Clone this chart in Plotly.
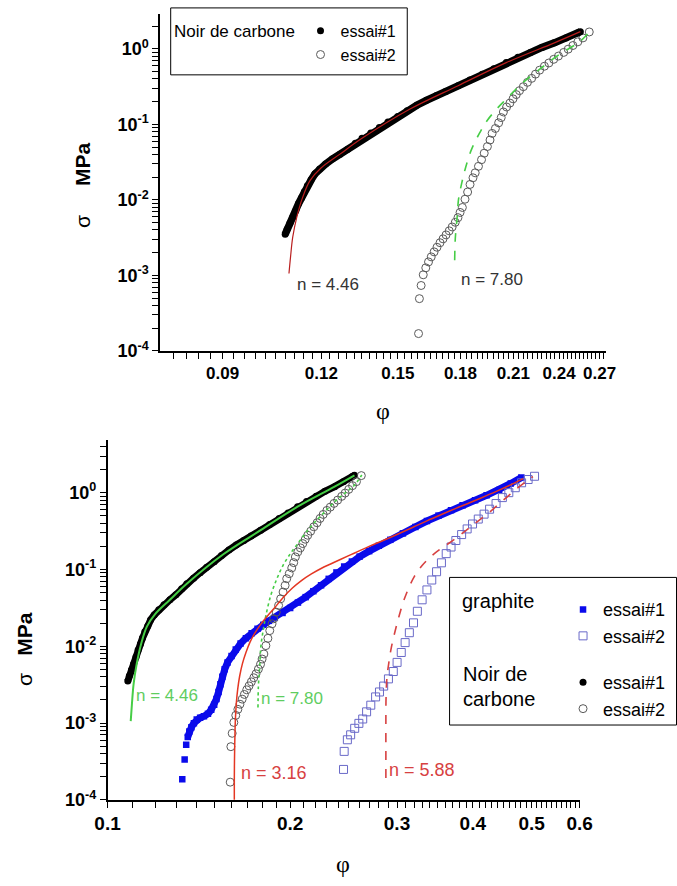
import plotly.graph_objects as go

W, H = 677, 886

# ---------------- data ----------------
# Noir de carbone, essai#1 (filled circles)
phi_nc1 = [0.1080, 0.1086, 0.1095, 0.1104, 0.1114, 0.1123, 0.1133, 0.1142, 0.1152, 0.1165,
           0.1178, 0.1194, 0.1215, 0.1239, 0.1267, 0.1296, 0.1325, 0.1351, 0.1386, 0.1421,
           0.1457, 0.1499, 0.1541, 0.1585, 0.1630, 0.1677, 0.1724, 0.1788, 0.1850, 0.1918,
           0.1984, 0.2057, 0.2128, 0.2207, 0.2282, 0.2367, 0.2448, 0.2532, 0.2553]
sig_nc1 = [0.00352, 0.00409, 0.00490, 0.00587, 0.00725, 0.00895, 0.0107, 0.0128, 0.0154, 0.0184,
           0.0221, 0.0256, 0.0298, 0.0347, 0.0403, 0.0468, 0.0561, 0.0652, 0.0769, 0.0908,
           0.1072, 0.1265, 0.1515, 0.1788, 0.2078, 0.2379, 0.2724, 0.3245, 0.3851, 0.4613,
           0.5444, 0.6561, 0.7697, 0.8948, 1.040, 1.198, 1.384, 1.619, 1.683]

# Noir de carbone, essai#2 (open circles)
phi_nc2 = [0.1593, 0.1597, 0.1605, 0.1615, 0.1627, 0.1640, 0.1653, 0.1667, 0.1681, 0.1696,
           0.1711, 0.1726, 0.1742, 0.1757, 0.1773, 0.1787, 0.1798, 0.1810, 0.1824, 0.1838,
           0.1851, 0.1867, 0.1879, 0.1897, 0.1914, 0.1929, 0.1947, 0.1962, 0.1974, 0.1993,
           0.2012, 0.2027, 0.2040, 0.2059, 0.2079, 0.2098, 0.2118, 0.2138, 0.2162, 0.2188,
           0.2215, 0.2240, 0.2267, 0.2299, 0.2329, 0.2362, 0.2395, 0.2432, 0.2464, 0.2498,
           0.2534, 0.2572, 0.2620]
sig_nc2 = [1.70e-4, 4.93e-4, 7.36e-4, 1.02e-3, 1.26e-3, 1.51e-3, 1.76e-3, 2.05e-3, 2.36e-3, 2.71e-3,
           3.05e-3, 3.44e-3, 3.89e-3, 4.38e-3, 5.05e-3, 5.82e-3, 6.82e-3, 7.93e-3, 0.0102, 0.0127,
           0.0160, 0.0196, 0.0228, 0.0278, 0.0340, 0.0415, 0.0508, 0.0620, 0.0758, 0.0881,
           0.1047, 0.1227, 0.1457, 0.1694, 0.1910, 0.2174, 0.2474, 0.2790, 0.3149, 0.3594,
           0.4055, 0.4613, 0.5204, 0.5870, 0.6484, 0.7247, 0.8003, 0.8948, 0.988, 1.104,
           1.234, 1.392, 1.668]

# fit n = 4.46 (Noir de carbone essai#1)
phi_fit446 = [0.1092, 0.1097, 0.1104, 0.1117, 0.1136, 0.1161, 0.1198, 0.1267, 0.1351, 0.1554,
              0.1788, 0.2057, 0.2367, 0.2553]
sig_fit446 = [0.00106, 0.00176, 0.00321, 0.00587, 0.0107, 0.0180, 0.0262, 0.0403, 0.0652, 0.159,
              0.3245, 0.6561, 1.198, 1.683]

# fit n = 7.80 (Noir de carbone essai#2)
phi_fit780 = [0.1770, 0.1773, 0.1782, 0.1790, 0.1807, 0.1824, 0.1858, 0.1902, 0.1947, 0.2002,
              0.2059, 0.2128, 0.2199, 0.2282, 0.2369, 0.2459, 0.2553, 0.2625]
sig_fit780 = [1.59e-3, 3.05e-3, 5.58e-3, 0.0102, 0.0168, 0.0251, 0.0459, 0.0758, 0.1132, 0.1609,
              0.2174, 0.3092, 0.4178, 0.5648, 0.7629, 0.979, 1.257, 1.70]

# graphite, essai#1 (filled squares)
phi_gr1 = [0.1328, 0.1340, 0.1348, 0.1356, 0.1364, 0.1375, 0.1388, 0.1403, 0.1421, 0.1442,
           0.1464, 0.1482, 0.1499, 0.1512, 0.1524, 0.1535, 0.1546, 0.1560, 0.1577, 0.1601,
           0.1627, 0.1657, 0.1691, 0.1728, 0.1767, 0.1806, 0.1846, 0.1887, 0.1943, 0.2000,
           0.2060, 0.2121, 0.2184, 0.2249, 0.2315, 0.2384, 0.2455, 0.2528, 0.2603, 0.2699,
           0.2800, 0.2925, 0.3068, 0.3217, 0.3361, 0.3512, 0.3683, 0.3848, 0.4035, 0.4216,
           0.4421, 0.4620, 0.4809]
sig_gr1 = [1.85e-4, 3.35e-4, 5.23e-4, 6.59e-4, 7.75e-4, 8.85e-4, 9.97e-4, 1.11e-3, 1.17e-3, 1.23e-3,
           1.32e-3, 1.49e-3, 1.73e-3, 2.06e-3, 2.54e-3, 3.21e-3, 4.01e-3, 5.01e-3, 6.17e-3, 7.48e-3,
           9.08e-3, 0.01083, 0.01275, 0.01479, 0.01690, 0.01902, 0.02142, 0.02376, 0.02716, 0.03149,
           0.03706, 0.04362, 0.05210, 0.06223, 0.07547, 0.09150, 0.1093, 0.1268, 0.1470, 0.1730,
           0.2037, 0.2432, 0.2950, 0.3576, 0.4272, 0.5029, 0.5918, 0.6865, 0.7962, 0.9231,
           1.086, 1.317, 1.57]

# graphite, essai#2 (open squares)
phi_gr2 = [0.2449, 0.2455, 0.2485, 0.2516, 0.2555, 0.2596, 0.2634, 0.2673, 0.2716, 0.2766,
           0.2807, 0.2852, 0.2904, 0.2958, 0.3001, 0.3049, 0.3094, 0.3144, 0.3194, 0.3241,
           0.3300, 0.3361, 0.3423, 0.3486, 0.3551, 0.3616, 0.3683, 0.3751, 0.3834, 0.3915,
           0.3996, 0.4084, 0.4175, 0.4263, 0.4369, 0.4475, 0.4586, 0.4700, 0.4814, 0.4934,
           0.5056]
sig_gr2 = [2.49e-4, 4.28e-4, 6.06e-4, 7.03e-4, 8.55e-4, 9.91e-4, 1.13e-3, 1.40e-3, 1.71e-3, 2.19e-3,
           2.54e-3, 3.03e-3, 3.76e-3, 4.69e-3, 6.17e-3, 8.30e-3, 0.01116, 0.01501, 0.02018, 0.02856,
           0.04027, 0.05416, 0.07285, 0.09342, 0.1220, 0.1607, 0.1960, 0.2383, 0.2847, 0.3371,
           0.3908, 0.4533, 0.5255, 0.6095, 0.7218, 0.8622, 1.000, 1.160, 1.345, 1.483,
           1.635]

# fit n = 3.16 (graphite essai#1)
phi_fit316 = [0.1618, 0.1618, 0.1619, 0.1621, 0.1624, 0.1630, 0.1639, 0.1651, 0.1669, 0.1691,
              0.1716, 0.1747, 0.1786, 0.1832, 0.1887, 0.1943, 0.2015, 0.2090, 0.2168, 0.2249,
              0.2332, 0.2419, 0.2555, 0.2699, 0.2852, 0.3012, 0.3182, 0.3361, 0.3551, 0.3751,
              0.3962, 0.4186, 0.4421, 0.4670, 0.4844]
sig_fit316 = [9.2e-5, 1.76e-4, 3.19e-4, 5.76e-4, 1.04e-3, 1.78e-3, 2.77e-3, 4.07e-3, 5.99e-3, 8.30e-3,
              0.01116, 0.01457, 0.01902, 0.02447, 0.03195, 0.04234, 0.05693, 0.07218, 0.08754, 0.1030,
              0.1180, 0.1350, 0.1640, 0.2000, 0.2400, 0.2900, 0.3520, 0.4300, 0.5200, 0.6250,
              0.7450, 0.8950, 1.080, 1.320, 1.520]

# fit n = 5.88 (graphite essai#2)
phi_fit588 = [0.2876, 0.2876, 0.2876, 0.2878, 0.2888, 0.2909, 0.2936, 0.2974, 0.3018, 0.3068,
              0.3130, 0.3205, 0.3300, 0.3411, 0.3525, 0.3643, 0.3778, 0.3919, 0.4080, 0.4263,
              0.4470, 0.4688, 0.4898, 0.5025]
sig_fit588 = [1.92e-4, 4.28e-4, 1.04e-3, 2.19e-3, 3.96e-3, 6.17e-3, 9.62e-3, 0.01501, 0.02341, 0.03651,
              0.05529, 0.08128, 0.1126, 0.1470, 0.1809, 0.2161, 0.2659, 0.3321, 0.4272, 0.5577,
              0.7727, 1.070, 1.398, 1.621]

top_xticks = [0.09, 0.12, 0.15, 0.18, 0.21, 0.24, 0.27]
bot_xticks = [0.1, 0.2, 0.3, 0.4, 0.5, 0.6]
y_ticks = [1e-4, 1e-3, 1e-2, 1e-1, 1]
y_ticktext = ["10<sup>-4</sup>", "10<sup>-3</sup>", "10<sup>-2</sup>", "10<sup>-1</sup>", "10<sup>0</sup>"]
fit_labels = ["n = 4.46", "n = 7.80", "n = 3.16", "n = 5.88"]

# ---------------- styling helpers ----------------
def X(px):
    return px / W

def Y(py):
    return 1 - py / H

# tick positions: major ticks get labels, the others are unlabelled minor ticks
top_minor_x = [round(0.078 + 0.003 * i, 3) for i in range(66)]
top_minor_x = [v for v in top_minor_x if v not in top_xticks and v <= 0.275]
bot_minor_x = [round(0.11 + 0.01 * i, 2) for i in range(50)]
bot_minor_x = [v for v in bot_minor_x if v not in bot_xticks and v < 0.6]
minor_y_top = [k * 10.0 ** e for e in range(-4, 1) for k in range(2, 10)] + [2]
minor_y_bot = [k * 10.0 ** e for e in range(-4, 1) for k in range(2, 10)] + [2, 3, 4]

def all_ticks(major, labels, minor):
    vals = list(major) + list(minor)
    text = list(labels) + [""] * len(minor)
    return vals, text

BLACK = "black"
GRAY = "#5a5a5a"
BLUE = "rgb(10,10,235)"
SQ2 = "rgb(105,105,200)"
GREEN = "rgb(70,205,70)"
GREEN_TXT = "rgb(95,205,95)"
RED_TOP = "rgb(185,30,30)"
RED = "rgb(228,55,35)"
RED_D = "rgb(215,65,65)"

fig = go.Figure()

# ---- top panel ----
fig.add_trace(go.Scatter(x=phi_nc2, y=sig_nc2, mode="markers", name="essai#2",
                         marker=dict(symbol="circle-open", size=8, color=GRAY, line=dict(width=1)),
                         xaxis="x", yaxis="y", legend="legend", legendrank=2))
fig.add_trace(go.Scatter(x=phi_nc1, y=sig_nc1, mode="lines", showlegend=False,
                         line=dict(color=BLACK, width=7.5), xaxis="x", yaxis="y"))
fig.add_trace(go.Scatter(x=phi_nc1, y=sig_nc1, mode="markers", name="essai#1",
                         marker=dict(symbol="circle", size=7, color=BLACK),
                         xaxis="x", yaxis="y", legend="legend", legendrank=1))
fig.add_trace(go.Scatter(x=phi_fit446, y=sig_fit446, mode="lines", showlegend=False,
                         line=dict(color=RED_TOP, width=1.2, shape="spline"), xaxis="x", yaxis="y"))
fig.add_trace(go.Scatter(x=phi_fit780, y=sig_fit780, mode="lines", showlegend=False,
                         line=dict(color=GREEN, width=1.6, dash="dash", shape="spline"),
                         xaxis="x", yaxis="y"))

# ---- bottom panel ----
fig.add_trace(go.Scatter(x=phi_gr1[3:], y=sig_gr1[3:], mode="lines", showlegend=False,
                         line=dict(color=BLUE, width=7), xaxis="x2", yaxis="y2"))
fig.add_trace(go.Scatter(x=phi_gr1, y=sig_gr1, mode="markers", name="essai#1",
                         marker=dict(symbol="square", size=6.5, color=BLUE),
                         xaxis="x2", yaxis="y2", legend="legend2", legendgroup="g"))
fig.add_trace(go.Scatter(x=phi_gr2, y=sig_gr2, mode="markers", name="essai#2",
                         marker=dict(symbol="square-open", size=8, color=SQ2, line=dict(width=1)),
                         xaxis="x2", yaxis="y2", legend="legend2", legendgroup="g"))
fig.add_trace(go.Scatter(x=phi_nc1, y=sig_nc1, mode="lines", showlegend=False,
                         line=dict(color=BLACK, width=7), xaxis="x2", yaxis="y2"))
fig.add_trace(go.Scatter(x=phi_nc1, y=sig_nc1, mode="markers", name="essai#1",
                         marker=dict(symbol="circle", size=7, color=BLACK),
                         xaxis="x2", yaxis="y2", legend="legend2", legendgroup="n"))
fig.add_trace(go.Scatter(x=phi_nc2, y=sig_nc2, mode="markers", name="essai#2",
                         marker=dict(symbol="circle-open", size=8, color=GRAY, line=dict(width=1)),
                         xaxis="x2", yaxis="y2", legend="legend2", legendgroup="n"))
fig.add_trace(go.Scatter(x=phi_fit446, y=sig_fit446, mode="lines", showlegend=False,
                         line=dict(color=GREEN, width=2, shape="spline"), xaxis="x2", yaxis="y2"))
fig.add_trace(go.Scatter(x=phi_fit780, y=sig_fit780, mode="lines", showlegend=False,
                         line=dict(color=GREEN, width=1.6, dash="dot", shape="spline"),
                         xaxis="x2", yaxis="y2"))
fig.add_trace(go.Scatter(x=phi_fit316, y=sig_fit316, mode="lines", showlegend=False,
                         line=dict(color=RED, width=1.5, shape="spline"), xaxis="x2", yaxis="y2"))
fig.add_trace(go.Scatter(x=phi_fit588, y=sig_fit588, mode="lines", showlegend=False,
                         line=dict(color=RED_D, width=1.6, dash="dash", shape="spline"),
                         xaxis="x2", yaxis="y2"))

tickfont = dict(family="Arial, Liberation Sans", size=17, color="black", weight="bold")
common = dict(type="log", showline=True, linecolor="black", linewidth=1.5, mirror=False,
              ticks="outside", ticklen=6, tickwidth=1.3, tickcolor="black",
              showgrid=False, zeroline=False, tickmode="array")

TOP_XR = [-1.12487, -0.56012]
TOP_YR = [-4, 0.462]
BOT_XR = [-1, -0.2218]
BOT_YR = [-4, 0.686]

tx_v, tx_t = all_ticks(top_xticks, [f"{v:.2f}" for v in top_xticks], top_minor_x)
ty_v, ty_t = all_ticks(y_ticks, y_ticktext, minor_y_top)
bx_v, bx_t = all_ticks(bot_xticks, [f"{v:.1f}" for v in bot_xticks], bot_minor_x)
by_v, by_t = all_ticks(y_ticks, y_ticktext, minor_y_bot)

fig.update_layout(
    width=W, height=H, margin=dict(l=0, r=0, t=0, b=0),
    paper_bgcolor="white", plot_bgcolor="white", showlegend=True,
    xaxis=dict(common, domain=[X(153), X(617)], anchor="y", range=TOP_XR,
               tickvals=tx_v, ticktext=tx_t, tickfont=tickfont),
    yaxis=dict(common, domain=[Y(355), Y(14)], anchor="x", range=TOP_YR,
               tickvals=ty_v, ticktext=ty_t, tickfont=dict(tickfont, size=18)),
    xaxis2=dict(common, domain=[X(98.3), X(589.3)], anchor="y2", range=BOT_XR,
                tickvals=bx_v, ticktext=bx_t, tickfont=dict(tickfont, size=19)),
    yaxis2=dict(common, domain=[Y(809), Y(445)], anchor="x2", range=BOT_YR,
                tickvals=by_v, ticktext=by_t, tickfont=dict(tickfont, size=18)),
    legend=dict(x=X(299), y=Y(14), xanchor="left", yanchor="top",
                bgcolor="rgba(0,0,0,0)", borderwidth=0, traceorder="normal",
                font=dict(family="Arial, Liberation Sans", size=16, color="black"),
                itemsizing="trace"),
    legend2=dict(x=X(572), y=Y(598), xanchor="left", yanchor="top",
                 bgcolor="rgba(0,0,0,0)", borderwidth=0, traceorder="grouped",
                 tracegroupgap=20,
                 font=dict(family="Arial, Liberation Sans", size=18, color="black"),
                 itemsizing="trace"),
)

shapes = [
    dict(type="rect", xref="paper", yref="paper", x0=X(164), x1=X(410), y0=Y(75.7), y1=Y(8),
         line=dict(color="black", width=1), fillcolor="rgba(0,0,0,0)"),
    dict(type="rect", xref="paper", yref="paper", x0=X(454), x1=X(690), y0=Y(733.3), y1=Y(584),
         line=dict(color="black", width=1), fillcolor="rgba(0,0,0,0)"),
]
fig.update_layout(shapes=shapes)

def ann(text, px, py, size, color="black", xanchor="center", angle=0, family="Arial, Liberation Sans"):
    fig.add_annotation(text=text, x=X(px), y=Y(py), xref="paper", yref="paper",
                       xanchor=xanchor, yanchor="middle", showarrow=False, textangle=angle,
                       font=dict(family=family, size=size, color=color))

# legends' group labels
ann("Noir de carbone", 165, 32, 17, xanchor="left")
ann("graphite", 465, 608, 20, xanchor="left")
ann("Noir de", 466, 682, 20, xanchor="left")
ann("carbone", 466, 707, 20, xanchor="left")

# fit labels
ann(fit_labels[0], 327.5, 287.5, 17, color="#333333")
ann(fit_labels[1], 498, 283, 17, color="#333333")
ann(fit_labels[0], 160, 703.3, 17, color=GREEN_TXT)
ann(fit_labels[1], 290, 706.7, 17, color=GREEN_TXT)
ann(fit_labels[2], 271.7, 781.7, 18, color=RED_D)
ann(fit_labels[3], 425.8, 778.3, 18, color=RED_D)

# axis titles
NB = "\u00a0"
ann("σ" + NB * 5 + "<b>MPa</b>", 73, 187, 21, angle=-90)
ann("σ" + NB * 3 + "<b>MPa</b>", 12, 657, 21, angle=-90)
ann("φ", 385, 416, 24, family="Liberation Serif, Times New Roman")
ann("φ", 343.3, 874, 24, family="Liberation Serif, Times New Roman")

fig.write_html("out.html", config={"displayModeBar": False},
               post_script="document.body.style.margin='0px';")
